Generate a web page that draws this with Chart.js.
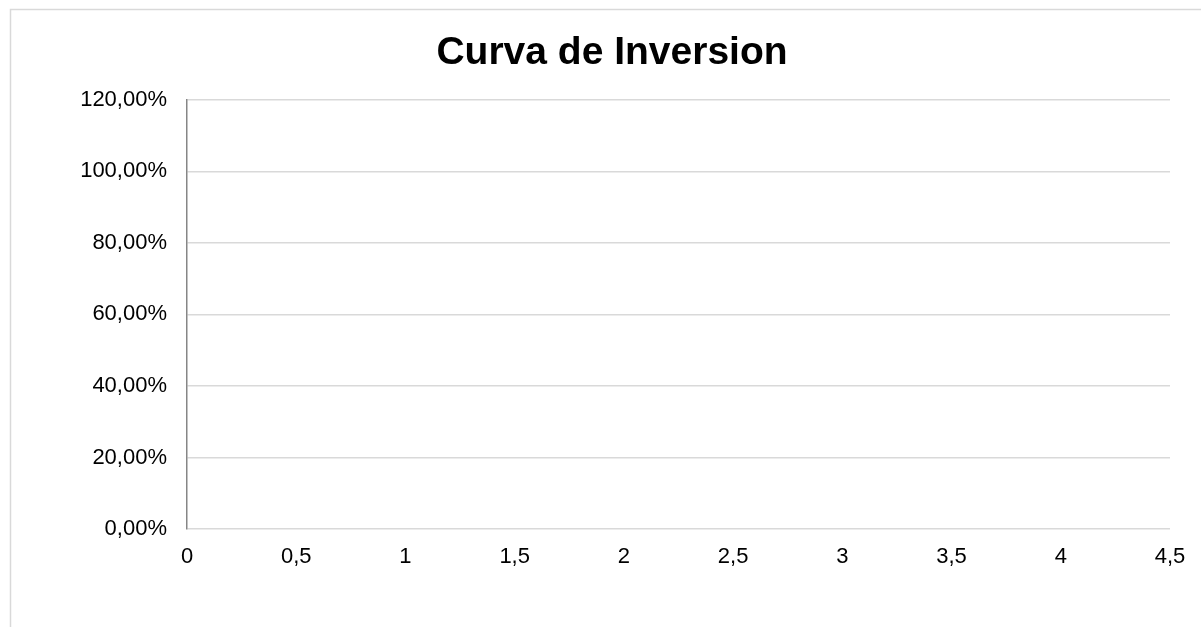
<!DOCTYPE html>
<html>
<head>
<meta charset="utf-8">
<script src="https://cdn.jsdelivr.net/npm/chart.js@4/dist/chart.umd.min.js"></script>
<style>
  body { margin: 0; background: #fff; }
  #wrap { width: 1201px; height: 627px; position: relative; }
</style>
</head>
<body>
<div id="wrap"><canvas id="curva"></canvas></div>
<script>
// datos de la curva (la hoja original no tiene puntos)
const periodos = [];
const rendimientos = [];
const xTicks = [0, 0.5, 1, 1.5, 2, 2.5, 3, 3.5, 4, 4.5];
const yTicks = [0, 0.2, 0.4, 0.6, 0.8, 1.0, 1.2];

const puntos = periodos.map((p, i) => ({ x: p, y: rendimientos[i] }));

// marco exterior del grafico
const marco = {
  id: 'marco',
  beforeDraw(chart) {
    const ctx = chart.ctx;
    ctx.save();
    ctx.strokeStyle = '#d9d9d9';
    ctx.lineWidth = 1.5;
    ctx.strokeRect(10.5, 9.5, 1300, 700);
    ctx.restore();
  }
};

const coma = v => String(v).replace('.', ',');

new Chart(document.getElementById('curva'), {
  type: 'scatter',
  data: {
    datasets: [{
      label: 'Curva',
      data: puntos,
      borderColor: '#4472c4',
      backgroundColor: '#4472c4',
      showLine: true
    }]
  },
  options: {
    responsive: true,
    maintainAspectRatio: false,
    animation: false,
    layout: { padding: { left: 54, right: 31, top: 0, bottom: 0 } },
    plugins: {
      legend: { display: false },
      tooltip: { enabled: false },
      title: {
        display: true,
        text: 'Curva de Inversion',
        color: '#000',
        font: { family: 'Liberation Sans', size: 39, weight: 'bold' },
        padding: { top: 30, bottom: 23 }
      }
    },
    scales: {
      x: {
        type: 'linear',
        min: xTicks[0],
        max: xTicks[xTicks.length - 1],
        afterBuildTicks: s => { s.ticks = xTicks.map(v => ({ value: v })); },
        afterFit: s => { s.height = 98; },
        grid: { display: false, drawTicks: false },
        border: { display: false },
        ticks: {
          color: '#000',
          padding: 15,
          maxRotation: 0,
          autoSkip: false,
          font: { family: 'Liberation Sans', size: 22 },
          callback: v => coma(v)
        }
      },
      y: {
        min: yTicks[0],
        max: yTicks[yTicks.length - 1],
        afterBuildTicks: s => { s.ticks = yTicks.map(v => ({ value: v })); },
        afterFit: s => { s.width = 133; },
        grid: { color: '#d9d9d9', lineWidth: 1.5, drawTicks: false },
        border: { display: true, color: '#868686', width: 1.5 },
        ticks: {
          color: '#000',
          padding: 20,
          autoSkip: false,
          font: { family: 'Liberation Sans', size: 22 },
          callback: v => (v * 100).toFixed(2).replace('.', ',') + '%'
        }
      }
    }
  },
  plugins: [marco]
});
</script>
</body>
</html>
